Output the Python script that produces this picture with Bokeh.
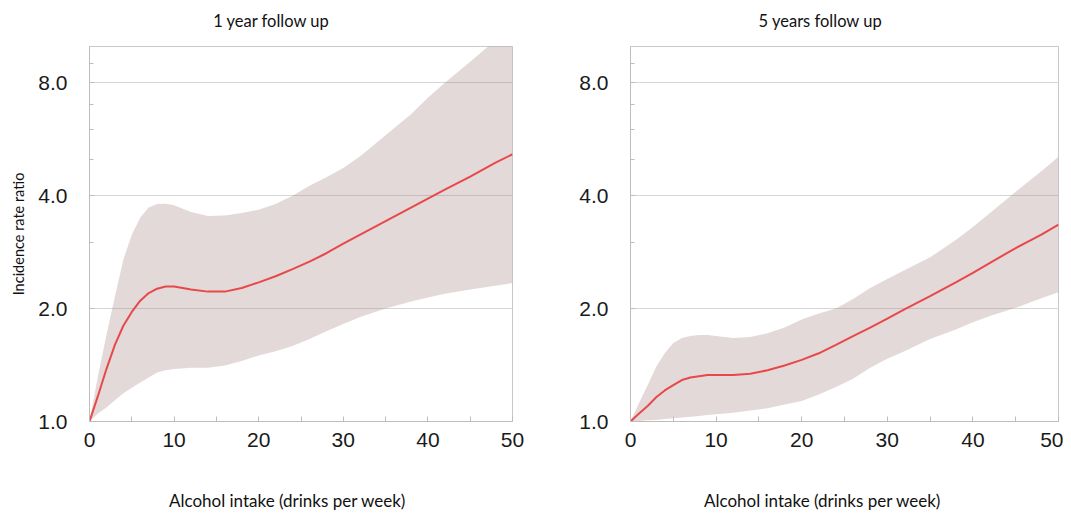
from bokeh.plotting import figure
from bokeh.layouts import row, column
from bokeh.models import Range1d, FixedTicker, Label, PrintfTickFormatter, ColumnDataSource
from bokeh.embed import file_html
from bokeh.resources import INLINE

# ---- data ----
x = [0, 1, 2, 3, 4, 5, 6, 7, 8, 9, 10, 12, 14, 16, 18, 20, 22, 24, 26, 28, 30, 32, 35, 38, 40, 42, 45, 48, 50]

y1_mid = [1.00, 1.17, 1.38, 1.60, 1.80, 1.96, 2.10, 2.20, 2.26, 2.29, 2.29, 2.25, 2.22, 2.22, 2.27, 2.35,
          2.44, 2.55, 2.67, 2.81, 2.98, 3.15, 3.42, 3.72, 3.93, 4.15, 4.50, 4.90, 5.16]
y1_upper = [1.00, 1.32, 1.70, 2.15, 2.70, 3.15, 3.50, 3.72, 3.80, 3.81, 3.77, 3.62, 3.53, 3.54, 3.60, 3.67,
            3.80, 4.00, 4.25, 4.48, 4.74, 5.10, 5.80, 6.60, 7.30, 8.00, 9.10, 10.4, 11.2]
y1_lower = [1.00, 1.05, 1.09, 1.14, 1.19, 1.23, 1.27, 1.31, 1.35, 1.37, 1.38, 1.39, 1.39, 1.41, 1.45, 1.50,
            1.54, 1.59, 1.66, 1.74, 1.82, 1.90, 2.00, 2.09, 2.14, 2.19, 2.25, 2.30, 2.34]

y5_mid = [1.00, 1.05, 1.10, 1.16, 1.21, 1.25, 1.29, 1.31, 1.32, 1.33, 1.33, 1.33, 1.34, 1.37, 1.41, 1.46,
          1.52, 1.60, 1.69, 1.78, 1.88, 1.99, 2.16, 2.35, 2.49, 2.65, 2.90, 3.15, 3.35]
y5_upper = [1.00, 1.12, 1.25, 1.40, 1.52, 1.62, 1.67, 1.69, 1.70, 1.70, 1.69, 1.67, 1.68, 1.72, 1.78, 1.87,
            1.94, 2.00, 2.12, 2.27, 2.40, 2.53, 2.74, 3.05, 3.30, 3.60, 4.10, 4.65, 5.08]
y5_lower = [1.00, 1.003, 1.007, 1.01, 1.015, 1.02, 1.025, 1.03, 1.035, 1.04, 1.045, 1.055, 1.07, 1.085, 1.11,
            1.135, 1.18, 1.235, 1.30, 1.39, 1.47, 1.54, 1.66, 1.76, 1.84, 1.91, 2.01, 2.13, 2.21]

titles = ["1 year follow up", "5 years follow up"]
x_label = "Alcohol intake (drinks per week)"
y_label = "Incidence rate ratio"
x_ticks = [0, 10, 20, 30, 40, 50]
x_minor = [5, 15, 25, 35, 45]
y_ticks = [1, 2, 4, 8]
y_minor = [3, 5, 6, 7, 9]

FONT = "Lato"
TICK_FONT = "Liberation Sans"
TOP_H = 46       # strip holding the panel titles
MID_H = 413      # chart panels
BOT_H = 53       # strip holding the x captions


def text_strip(width, height, text, cx, cy, size):
    s = figure(width=width, height=height, x_range=Range1d(0, width), y_range=Range1d(height, 0),
               output_backend="svg", toolbar_location=None,
               min_border_left=0, min_border_right=0, min_border_top=0, min_border_bottom=0)
    s.xaxis.visible = False
    s.yaxis.visible = False
    s.xgrid.visible = False
    s.ygrid.visible = False
    s.outline_line_color = None
    s.add_layout(Label(x=cx, y=cy, text=text, text_align="center", text_baseline="middle",
                       text_font=FONT, text_font_size=size, text_color="#111111"))
    return s


def make_panel(mid, lower, upper, width, bl, br, show_ylabel):
    p = figure(width=width, height=MID_H, x_range=Range1d(0, 50), y_range=Range1d(1, 10),
               y_axis_type="log", output_backend="svg", toolbar_location=None,
               min_border_left=bl, min_border_right=br, min_border_top=0, min_border_bottom=38)

    src = ColumnDataSource(dict(x=x, mid=mid, lo=lower, up=upper))
    p.varea(x="x", y1="lo", y2="up", source=src, fill_color="#a0827f", fill_alpha=0.30)
    p.line(x="x", y="mid", source=src, line_color="#e8484a", line_width=2)

    p.outline_line_color = "#c9c9c9"
    p.background_fill_color = "white"
    p.border_fill_color = "white"
    p.xgrid.visible = False
    p.ygrid.grid_line_color = "#d6d6d6"

    xa = p.xaxis[0]
    xa.ticker = FixedTicker(ticks=x_ticks, minor_ticks=x_minor)
    ya = p.yaxis[0]
    ya.ticker = FixedTicker(ticks=y_ticks, minor_ticks=y_minor)
    ya.formatter = PrintfTickFormatter(format="%.1f")
    for ax in (xa, ya):
        ax.axis_line_color = "#bdbdbd"
        ax.major_tick_line_color = "#bdbdbd"
        ax.minor_tick_line_color = "#bdbdbd"
        ax.major_tick_in = 5
        ax.major_tick_out = 0
        ax.minor_tick_in = 4
        ax.minor_tick_out = 0
        ax.major_label_text_font = TICK_FONT
        ax.major_label_text_font_size = "21px"
        ax.major_label_text_color = "#1a1a1a"
    xa.minor_tick_in = 5
    xa.major_label_standoff = 11
    ya.major_label_standoff = 22
    if show_ylabel:
        ya.axis_label = y_label
        ya.axis_label_text_font = FONT
        ya.axis_label_text_font_size = "14.5px"
        ya.axis_label_text_font_style = "normal"
        ya.axis_label_standoff = 8
        ya.axis_label_text_color = "#111111"
    return p


W1, W2 = 545, 518
p1 = make_panel(y1_mid, y1_lower, y1_upper, W1, 89, 33, True)
p2 = make_panel(y5_mid, y5_lower, y5_upper, W2, 85, 5, False)

t1 = text_strip(W1, TOP_H, titles[0], 271, 20, "16.5px")
t2 = text_strip(W2, TOP_H, titles[1], 275, 20, "16.5px")
b1 = text_strip(W1, BOT_H, x_label, 287, 41, "17px")
b2 = text_strip(W2, BOT_H, x_label, 277, 41, "17px")

layout = column(row(t1, t2), row(p1, p2), row(b1, b2))
open("out.html", "w").write(file_html(layout, INLINE))
